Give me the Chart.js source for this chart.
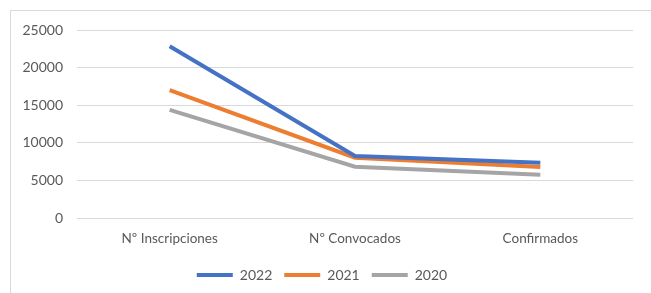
<!DOCTYPE html>
<html>
<head>
<meta charset="utf-8">
<script src="https://cdn.jsdelivr.net/npm/chart.js@4.4.1/dist/chart.umd.min.js"></script>
<style>
  html, body { margin: 0; padding: 0; background: #fff; overflow: hidden; }
  #marco {
    position: absolute; left: 10px; top: 10px;
    width: 641px; height: 283px;
    border-left: 1px solid #d9d9d9; border-top: 1px solid #d9d9d9;
  }
  #grafica { position: absolute; left: 0; top: -3px; }
</style>
</head>
<body>
<div id="marco"><canvas id="grafica" width="640" height="285"></canvas></div>
<script>
const categorias = ['Nº Inscripciones', 'Nº Convocados', 'Confirmados'];
const datos2022 = [22900, 8250, 7350];
const datos2021 = [17050, 8030, 6800];
const datos2020 = [14420, 6830, 5780];

const ctx = document.getElementById('grafica').getContext('2d');
Chart.defaults.font.family = 'Lato, "Open Sans", sans-serif';
Chart.defaults.color = '#595959';

new Chart(ctx, {
    type: 'line',
    data: {
        labels: categorias,
        datasets: [
            { label: '2022', data: datos2022, borderColor: '#4472C4', backgroundColor: '#4472C4', borderWidth: 4 },
            { label: '2021', data: datos2021, borderColor: '#ED7D31', backgroundColor: '#ED7D31', borderWidth: 4 },
            { label: '2020', data: datos2020, borderColor: '#A5A5A5', backgroundColor: '#A5A5A5', borderWidth: 4 }
        ]
    },
    options: {
        responsive: false,
        animation: false,
        elements: {
            line: { tension: 0 },
            point: { radius: 0 }
        },
        layout: { padding: { left: 0, right: 18, top: 5, bottom: 1 } },
        scales: {
            x: {
                offset: true,
                grid: { display: false },
                border: { display: false },
                ticks: { font: { size: 13.5 }, padding: 5 },
                afterFit: function (scale) { scale.height = 38; }
            },
            y: {
                min: 0, max: 25000,
                ticks: {
                    stepSize: 5000, font: { size: 14 }, padding: 14,
                    callback: function (v) { return String(v); } // sin separador de miles
                },
                grid: { color: '#d9d9d9', drawTicks: false },
                border: { display: false },
                afterFit: function (scale) { scale.width = 66; }
            }
        },
        plugins: {
            legend: {
                position: 'bottom',
                labels: {
                    usePointStyle: true, pointStyle: 'line', pointStyleWidth: 36,
                    font: { size: 14 }, padding: 12
                }
            },
            tooltip: { enabled: false }
        }
    }
});
</script>
</body>
</html>
